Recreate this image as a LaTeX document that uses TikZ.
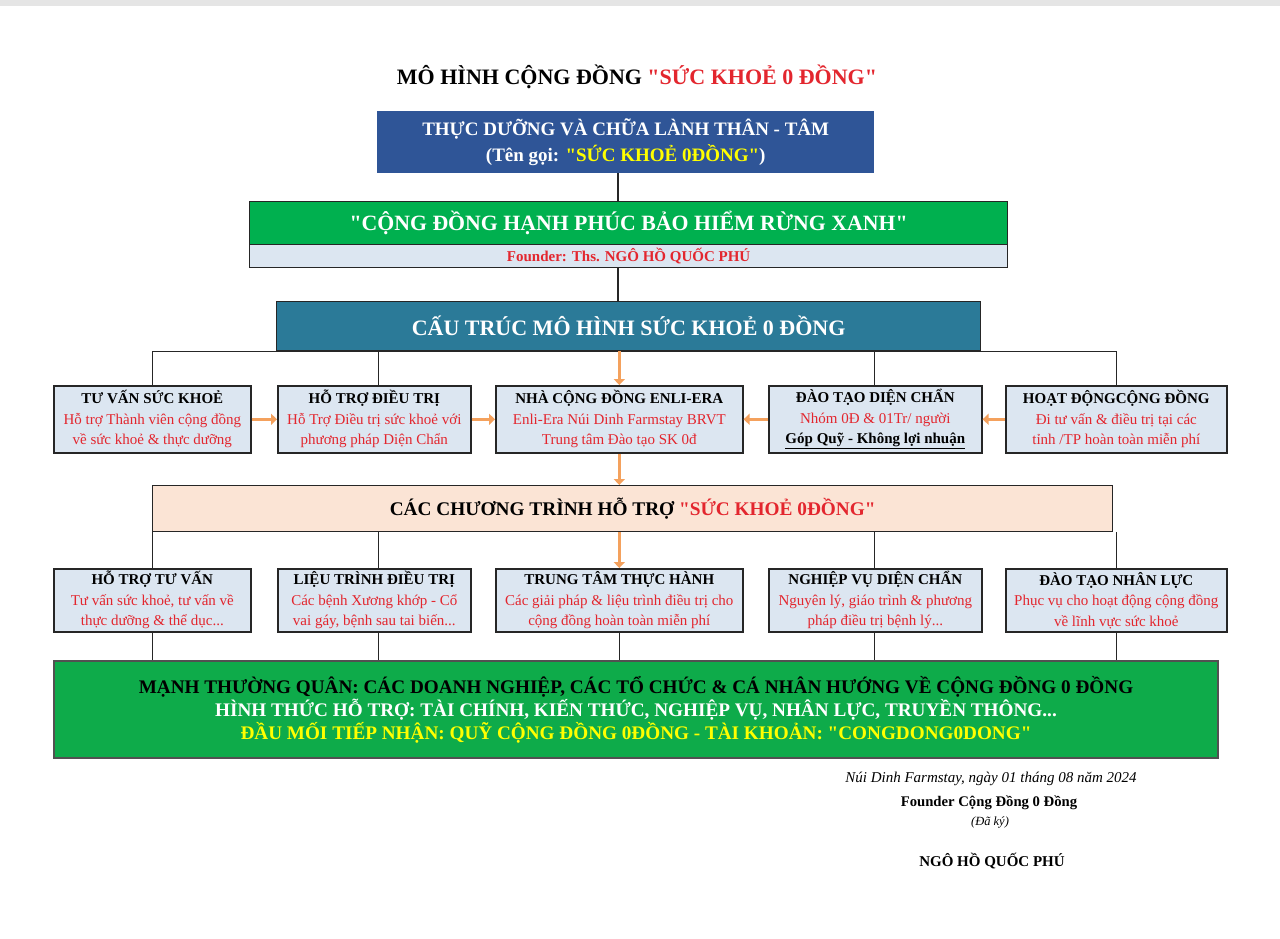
\documentclass[tikz,border=0pt]{standalone}
\usepackage{fontspec}
\setmainfont{Liberation Serif}[Ligatures=TeXOff]
\usetikzlibrary{arrows.meta}
\definecolor{tblue}{HTML}{2F5597}
\definecolor{tgreen}{HTML}{00B04F}
\definecolor{tteal}{HTML}{2B7A98}
\definecolor{lblue}{HTML}{DCE6F1}
\definecolor{peach}{HTML}{FBE4D5}
\definecolor{bgreen}{HTML}{0EAB4A}
\definecolor{tred}{HTML}{E3262E}
\definecolor{tyellow}{HTML}{FFFF00}
\definecolor{torange}{HTML}{F4A15D}
\definecolor{tline}{HTML}{262626}
\newcommand{\boxttl}[1]{{\bfseries\color{black}#1}}
\newcommand{\boxbody}[1]{{\color{tred}#1}}
\tikzset{
  rowbox/.style={draw=tline, line width=1.6pt, fill=lblue, minimum height=67pt, inner sep=1pt, align=center, anchor=north west, font=\fontsize{15}{20.5}\selectfont},
  rowboxb/.style={rowbox, minimum height=63pt},
  conn/.style={draw=tline, line width=1.3pt},
  oarrow/.style={draw=torange, line width=3.4pt, -{Triangle[width=11pt,length=6pt]}},
}
\begin{document}
\begin{tikzpicture}[x=1pt,y=-1pt]
\useasboundingbox (0,0) rectangle (1280,939);
\fill[white] (0,0) rectangle (1280,939);
\fill[black!10] (0,0) rectangle (1280,6);
\coordinate (ax) at (618,0);

\node[font=\fontsize{22}{24}\selectfont\bfseries] (title) at (637,77) {MÔ HÌNH CỘNG ĐỒNG \textcolor{tred}{"SỨC KHOẺ 0 ĐỒNG"}};

\node[fill=tblue, minimum width=497pt, minimum height=62pt, anchor=north west, text=white, align=center, font=\fontsize{19}{26}\selectfont\bfseries] (top) at (377,111) {THỰC DƯỠNG VÀ CHỮA LÀNH THÂN - TÂM\\(Tên gọi: \textcolor{tyellow}{"SỨC KHOẺ 0ĐỒNG"})};

\node[fill=tgreen, draw=tline, line width=1.2pt, minimum width=758pt, minimum height=43pt, anchor=north west, text=white, font=\fontsize{21.8}{24}\selectfont\bfseries] (green) at (249,201) {"CỘNG ĐỒNG HẠNH PHÚC BẢO HIỂM RỪNG XANH"};
\node[fill=lblue, draw=tline, line width=1.2pt, minimum width=758pt, minimum height=23pt, anchor=north west, text=tred, font=\fontsize{15}{16}\selectfont\bfseries, inner sep=0pt] (founder) at (249,244) {Founder: Ths. NGÔ HỒ QUỐC PHÚ};

\node[fill=tteal, draw=tline, line width=1.2pt, minimum width=704pt, minimum height=49pt, anchor=north west, text=white, font=\fontsize{22}{24}\selectfont\bfseries] (cau) at (276,301) {CẤU TRÚC MÔ HÌNH SỨC KHOẺ 0 ĐỒNG};

% row 1
\node[rowbox, minimum width=197pt] (b1) at (53,385) {\boxttl{TƯ VẤN SỨC KHOẺ}\\\boxbody{Hỗ trợ Thành viên cộng đồng}\\\boxbody{về sức khoẻ \& thực dưỡng}};
\node[rowbox, minimum width=193pt] (b2) at (277,385) {\boxttl{HỖ TRỢ ĐIỀU TRỊ}\\\boxbody{Hỗ Trợ Điều trị sức khoẻ với}\\\boxbody{phương pháp Diện Chẩn}};
\node[rowbox, minimum width=247pt] (b3) at (495,385) {\boxttl{NHÀ CỘNG ĐỒNG ENLI-ERA}\\\boxbody{Enli-Era Núi Dinh Farmstay BRVT}\\\boxbody{Trung tâm Đào tạo SK 0đ}};
\node[rowbox, minimum width=213pt] (b4) at (768,385) {\boxttl{ĐÀO TẠO DIỆN CHẨN}\\\boxbody{Nhóm 0Đ \& 01Tr/ người}\\\boxttl{\underline{Góp Quỹ - Không lợi nhuận}}};
\node[rowbox, minimum width=221pt] (b5) at (1005,385) {\boxttl{HOẠT ĐỘNGCỘNG ĐỒNG}\\\boxbody{Đi tư vấn \& điều trị tại các}\\\boxbody{tỉnh /TP hoàn toàn miễn phí}};

\node[fill=peach, draw=tline, line width=1.4pt, minimum width=960pt, minimum height=46pt, anchor=north west, font=\fontsize{19.3}{22}\selectfont\bfseries] (prog) at (152,485) {CÁC CHƯƠNG TRÌNH HỖ TRỢ \textcolor{tred}{"SỨC KHOẺ 0ĐỒNG"}};

% row 2
\node[rowboxb, minimum width=197pt] (c1) at (53,568) {\boxttl{HỖ TRỢ TƯ VẤN}\\\boxbody{Tư vấn sức khoẻ, tư vấn về}\\\boxbody{thực dưỡng \& thể dục...}};
\node[rowboxb, minimum width=193pt] (c2) at (277,568) {\boxttl{LIỆU TRÌNH ĐIỀU TRỊ}\\\boxbody{Các bệnh Xương khớp - Cổ}\\\boxbody{vai gáy, bệnh sau tai biến...}};
\node[rowboxb, minimum width=247pt] (c3) at (495,568) {\boxttl{TRUNG TÂM THỰC HÀNH}\\\boxbody{Các giải pháp \& liệu trình điều trị cho}\\\boxbody{cộng đồng hoàn toàn miễn phí}};
\node[rowboxb, minimum width=213pt] (c4) at (768,568) {\boxttl{NGHIỆP VỤ DIỆN CHẨN}\\\boxbody{Nguyên lý, giáo trình \& phương}\\\boxbody{pháp điều trị bệnh lý...}};
\node[rowboxb, minimum width=221pt] (c5) at (1005,568) {\boxttl{ĐÀO TẠO NHÂN LỰC}\\\boxbody{Phục vụ cho hoạt động cộng đồng}\\\boxbody{về lĩnh vực sức khoẻ}};

\node[fill=bgreen, draw=tline!80, line width=2pt, minimum width=1164pt, minimum height=97pt, anchor=north west, align=center, font=\fontsize{19.2}{23}\selectfont\bfseries] (bottom) at (53,660) {\textcolor{black}{MẠNH THƯỜNG QUÂN: CÁC DOANH NGHIỆP, CÁC TỔ CHỨC \& CÁ NHÂN HƯỚNG VỀ CỘNG ĐỒNG 0 ĐỒNG}\\\textcolor{white}{HÌNH THỨC HỖ TRỢ: TÀI CHÍNH, KIẾN THỨC, NGHIỆP VỤ, NHÂN LỰC, TRUYỀN THÔNG...}\\\textcolor{tyellow}{ĐẦU MỐI TIẾP NHẬN: QUỸ CỘNG ĐỒNG 0ĐỒNG - TÀI KHOẢN: "CONGDONG0DONG"}};

% signature
\node[font=\fontsize{15}{17}\selectfont\itshape] (date) at (991,779) {Núi Dinh Farmstay, ngày 01 tháng 08 năm 2024};
\node[font=\fontsize{14.7}{17}\selectfont\bfseries] (sign) at (989,803) {Founder Cộng Đồng 0 Đồng};
\node[font=\fontsize{12.5}{14}\selectfont\itshape] (signed) at (990,822) {(Đã ký)};
\node[font=\fontsize{15}{17}\selectfont\bfseries] (name) at (992,861) {NGÔ HỒ QUỐC PHÚ};

% connectors
\draw[conn] (top.south -| ax) -- (green.north -| ax);
\draw[conn] (founder.south -| ax) -- (cau.north -| ax);
\draw[conn] (b1.north |- cau.south) -- (b5.north |- cau.south);
\draw[conn] (b1.north |- cau.south) -- (b1.north);
\draw[conn] ([xshift=4pt]b2.north |- cau.south) -- ([xshift=4pt]b2.north);
\draw[conn] ([xshift=-1pt]b4.north |- cau.south) -- ([xshift=-1pt]b4.north);
\draw[conn] (b5.north |- cau.south) -- (b5.north);
\draw[oarrow] (b3.north |- cau.south) -- (b3.north);
\draw[oarrow] (b1.east) -- (b2.west);
\draw[oarrow] (b2.east) -- (b3.west);
\draw[oarrow] (b4.west) -- (b3.east);
\draw[oarrow] (b5.west) -- (b4.east);
\draw[oarrow] (b3.south) -- (prog.north -| b3.south);

\draw[conn] (c1.north |- prog.south) -- (c1.north);
\draw[conn] ([xshift=4pt]c2.north |- prog.south) -- ([xshift=4pt]c2.north);
\draw[conn] ([xshift=-1pt]c4.north |- prog.south) -- ([xshift=-1pt]c4.north);
\draw[conn] (c5.north |- prog.south) -- (c5.north);
\draw[oarrow] (c3.north |- prog.south) -- (c3.north);

\draw[conn] (c1.south) -- (bottom.north -| c1.south);
\draw[conn] ([xshift=4pt]c2.south) -- ([xshift=4pt]bottom.north -| c2.south);
\draw[conn] (c3.south) -- (bottom.north -| c3.south);
\draw[conn] ([xshift=-1pt]c4.south) -- ([xshift=-1pt]bottom.north -| c4.south);
\draw[conn] (c5.south) -- (bottom.north -| c5.south);
\end{tikzpicture}
\end{document}
